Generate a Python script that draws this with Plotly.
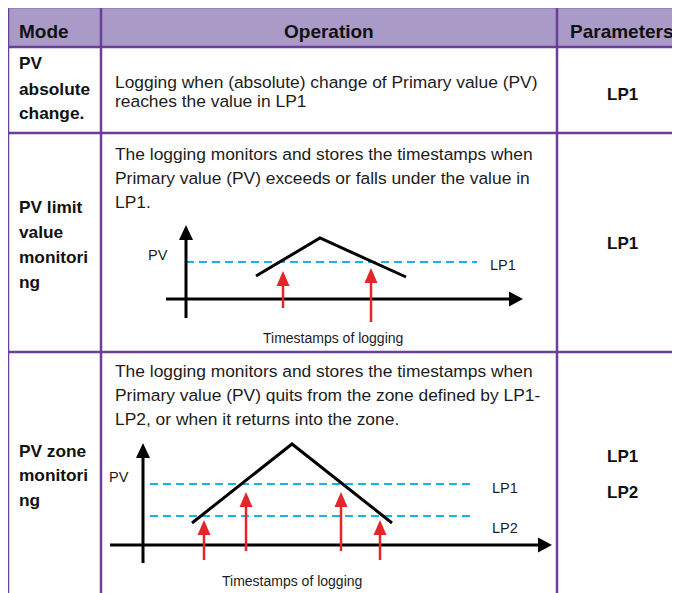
import plotly.graph_objects as go

# ---------------- data ----------------
headers = ["Mode", "Operation", "Parameters"]
mode_lines = [["PV", "absolute", "change."],
              ["PV limit", "value", "monitori", "ng"],
              ["PV zone", "monitori", "ng"]]
operation_lines = [
    ["Logging when (absolute) change of Primary value (PV)",
     "reaches the value in LP1"],
    ["The logging monitors and stores the timestamps when",
     "Primary value (PV) exceeds or falls under the value in",
     "LP1."],
    ["The logging monitors and stores the timestamps when",
     "Primary value (PV) quits from the zone defined by LP1-",
     "LP2, or when it returns into the zone."],
]
param_lines = [["LP1"], ["LP1"], ["LP1", "LP2"]]
axis_label = "PV"
log_label = "Timestamps of logging"

# diagram 1: limit value monitoring (time units, PV units)
d1_pv_time = [7.0, 13.4, 22.0]
d1_pv_value = [2.3, 6.1, 2.2]
d1_limits = [3.7]
d1_limit_names = ["LP1"]
d1_log_time = [9.7, 18.5]
d1_log_tip = [2.8, 3.1]
d1_log_tail = [-0.9, -2.3]

# diagram 2: zone monitoring
d2_pv_time = [4.9, 14.9, 24.9]
d2_pv_value = [2.2, 10.1, 2.2]
d2_limits = [6.1, 2.9]
d2_limit_names = ["LP1", "LP2"]
d2_log_time = [6.1, 10.3, 19.8, 23.7]
d2_log_tip = [2.5, 5.3, 5.3, 2.5]
d2_log_tail = [-1.5, -0.6, -0.6, -1.5]

# ---------------- layout constants ----------------
W, H = 680, 593
OFF = 8  # page body margin: figure starts at (8, 8) on screen
COL_X = [8, 101, 557, 720]
ROW_Y = [7, 47, 133, 352, 620]
BORDER = "#6A3F98"
HEADER_FILL = "#A99AC7"
TEXT = "#1c1c1c"
FONT = "Liberation Sans, Arial, sans-serif"
BLUE = "#1AB2E8"
RED = "#E4262B"
S = 10.0  # px per diagram unit

header_pos = [(17, "left"), (329, "center"), (622, "center")]
header_y = 31
mode_x = 17
mode_y = [[63, 88.5, 113], [207, 232, 257, 282], [450.5, 475, 499.5]]
op_x = 113
op_y = [[81.5, 101], [153.5, 178, 201.5], [370.5, 395, 419]]
param_x = 622
param_y = [[94.5], [243], [456.5, 492]]

diagrams = [
    dict(ax="2", origin=(186, 299), xr=[-3, 36], yr=[-5, 8],
         taxis=[-2, 33.7], paxis=[-1.9, 7.4], dash=[0, 29.1],
         pv=(d1_pv_time, d1_pv_value), limits=d1_limits, names=d1_limit_names,
         name_pos=[(31.7, 3.4)], pv_lab=(-2.85, 4.4), log_lab=(14.65, -3.9),
         logs=(d1_log_time, d1_log_tip, d1_log_tail)),
    dict(ax="3", origin=(143, 545), xr=[-4, 42], yr=[-4.5, 11],
         taxis=[-3.3, 40.9], paxis=[-1.8, 10.2], dash=[0.7, 32.9],
         pv=(d2_pv_time, d2_pv_value), limits=d2_limits, names=d2_limit_names,
         name_pos=[(36.15, 5.7), (36.15, 1.7)], pv_lab=(-2.4, 6.8), log_lab=(14.85, -3.6),
         logs=(d2_log_time, d2_log_tip, d2_log_tail)),
]

fig = go.Figure()
shapes = []
annotations = []

# table header fill
shapes.append(dict(type="rect", xref="x", yref="y", x0=COL_X[0], x1=COL_X[-1],
                   y0=ROW_Y[0], y1=ROW_Y[1], fillcolor=HEADER_FILL,
                   line=dict(width=0), layer="below"))
# borders
for y in ROW_Y[:-1]:
    shapes.append(dict(type="line", xref="x", yref="y", x0=COL_X[0], x1=COL_X[-1],
                       y0=y, y1=y, line=dict(color=BORDER, width=2.5)))
for x in COL_X[:-1]:
    shapes.append(dict(type="line", xref="x", yref="y", x0=x, x1=x,
                       y0=ROW_Y[0], y1=ROW_Y[-1], line=dict(color=BORDER, width=2.5)))

# header text
for txt, (x, anc) in zip(headers, header_pos):
    annotations.append(dict(xref="x", yref="y", x=x, y=header_y, text="<b>%s</b>" % txt,
                            showarrow=False, xanchor=anc, yanchor="middle",
                            font=dict(family=FONT, size=19, color="#111")))
# body text
for r in range(3):
    for txt, y in zip(mode_lines[r], mode_y[r]):
        annotations.append(dict(xref="x", yref="y", x=mode_x, y=y, text="<b>%s</b>" % txt,
                                showarrow=False, xanchor="left", yanchor="middle",
                                font=dict(family=FONT, size=17.3, color="#111")))
    for txt, y in zip(operation_lines[r], op_y[r]):
        annotations.append(dict(xref="x", yref="y", x=op_x, y=y, text=txt,
                                showarrow=False, xanchor="left", yanchor="middle",
                                font=dict(family=FONT, size=17.4, color=TEXT)))
    for txt, y in zip(param_lines[r], param_y[r]):
        annotations.append(dict(xref="x", yref="y", x=param_x, y=y, text="<b>%s</b>" % txt,
                                showarrow=False, xanchor="center", yanchor="middle",
                                font=dict(family=FONT, size=17, color="#111")))


def tri_up(t, p, w, l):
    return "M %f %f L %f %f L %f %f Z" % (t - w / 2 / S, p - l / S, t + w / 2 / S, p - l / S, t, p)


def tri_right(t, p, w, l):
    return "M %f %f L %f %f L %f %f Z" % (t - l / S, p - w / 2 / S, t - l / S, p + w / 2 / S, t, p)


layout_axes = {}
for d in diagrams:
    xa, ya = "x" + d["ax"], "y" + d["ax"]
    ox, oy = d["origin"]
    ox -= OFF
    oy -= OFF
    layout_axes["xaxis" + d["ax"]] = dict(
        range=d["xr"], domain=[(ox + S * d["xr"][0]) / W, (ox + S * d["xr"][1]) / W],
        anchor=ya, visible=False, fixedrange=True)
    layout_axes["yaxis" + d["ax"]] = dict(
        range=d["yr"], domain=[1 - (oy - S * d["yr"][0]) / H, 1 - (oy - S * d["yr"][1]) / H],
        anchor=xa, visible=False, fixedrange=True)
    # limit lines (dashed)
    for lp in d["limits"]:
        fig.add_trace(go.Scatter(x=d["dash"], y=[lp, lp], mode="lines", xaxis=xa, yaxis=ya,
                                 line=dict(color=BLUE, width=2, dash="8px,5px"),
                                 hoverinfo="skip", showlegend=False))
    # axes
    fig.add_trace(go.Scatter(x=[d["taxis"][0], d["taxis"][1] - 1.2], y=[0, 0], mode="lines",
                             xaxis=xa, yaxis=ya, line=dict(color="black", width=3),
                             hoverinfo="skip", showlegend=False))
    fig.add_trace(go.Scatter(x=[0, 0], y=[d["paxis"][0], d["paxis"][1] - 1.2], mode="lines",
                             xaxis=xa, yaxis=ya, line=dict(color="black", width=3),
                             hoverinfo="skip", showlegend=False))
    shapes.append(dict(type="path", xref=xa, yref=ya, path=tri_right(d["taxis"][1], 0, 15, 14),
                       fillcolor="black", line=dict(width=0)))
    shapes.append(dict(type="path", xref=xa, yref=ya, path=tri_up(0, d["paxis"][1], 14, 15),
                       fillcolor="black", line=dict(width=0)))
    # PV curve
    fig.add_trace(go.Scatter(x=d["pv"][0], y=d["pv"][1], mode="lines", xaxis=xa, yaxis=ya,
                             line=dict(color="black", width=3), hoverinfo="skip",
                             showlegend=False))
    # logging arrows
    for t, tip, tail in zip(*d["logs"]):
        fig.add_trace(go.Scatter(x=[t, t], y=[tail, tip - 1.2], mode="lines", xaxis=xa, yaxis=ya,
                                 line=dict(color=RED, width=2.5), hoverinfo="skip",
                                 showlegend=False))
        shapes.append(dict(type="path", xref=xa, yref=ya, path=tri_up(t, tip, 13, 15),
                           fillcolor=RED, line=dict(width=0)))
    # labels
    annotations.append(dict(xref=xa, yref=ya, x=d["pv_lab"][0], y=d["pv_lab"][1], text=axis_label,
                            showarrow=False, xanchor="center", yanchor="middle",
                            font=dict(family=FONT, size=14.5, color=TEXT)))
    for name, (t, p) in zip(d["names"], d["name_pos"]):
        annotations.append(dict(xref=xa, yref=ya, x=t, y=p, text=name, showarrow=False,
                                xanchor="center", yanchor="middle",
                                font=dict(family=FONT, size=14.5, color=TEXT)))
    annotations.append(dict(xref=xa, yref=ya, x=d["log_lab"][0], y=d["log_lab"][1], text=log_label,
                            showarrow=False, xanchor="center", yanchor="middle",
                            font=dict(family=FONT, size=14, color=TEXT)))

fig.update_layout(
    width=W, height=H, margin=dict(l=0, r=0, t=0, b=0),
    paper_bgcolor="white", plot_bgcolor="rgba(0,0,0,0)",
    xaxis=dict(range=[OFF, W + OFF], domain=[0, 1], visible=False, fixedrange=True),
    yaxis=dict(range=[H + OFF, OFF], domain=[0, 1], visible=False, fixedrange=True),
    shapes=shapes, annotations=annotations, showlegend=False,
    **layout_axes,
)

fig.write_html("out.html")
